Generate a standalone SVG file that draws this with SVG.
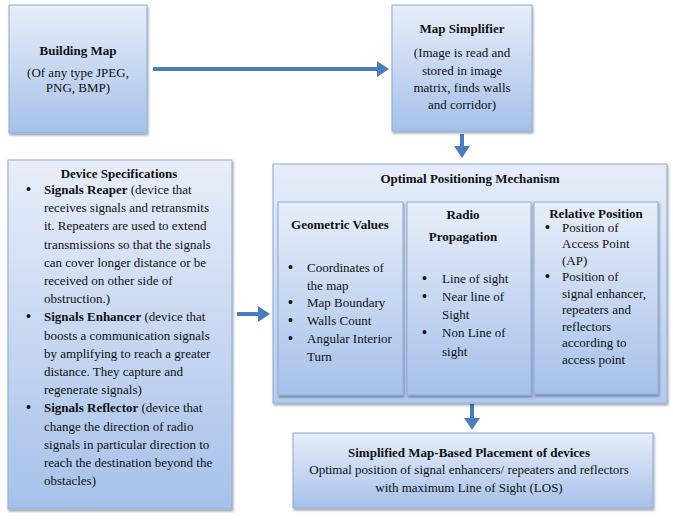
<svg xmlns="http://www.w3.org/2000/svg" width="673" height="526" viewBox="0 0 673 526">
<defs>
<linearGradient id="g" x1="0" y1="0" x2="0" y2="1">
<stop offset="0" stop-color="#e8eef9"/>
<stop offset="1" stop-color="#a6c1ea"/>
</linearGradient>
<linearGradient id="g2" x1="0" y1="0" x2="0" y2="1">
<stop offset="0" stop-color="#e6edf8"/>
<stop offset="1" stop-color="#b2cbef"/>
</linearGradient>
<filter id="sh" x="-10%" y="-10%" width="120%" height="120%">
<feDropShadow dx="1" dy="2" stdDeviation="1.2" flood-color="#000" flood-opacity="0.35"/>
</filter>
<marker id="ah" viewBox="0 0 12 16" markerWidth="12" markerHeight="16" refX="1" refY="8" orient="auto" markerUnits="userSpaceOnUse">
<path d="M0,0 L12,8 L0,16 z" fill="#4a7ebb"/>
</marker>
</defs>
<style>
.box{fill:url(#g);stroke:#8eaad6;stroke-width:1;filter:url(#sh)}
.box2{fill:url(#g2);stroke:#8eaad6;stroke-width:1;filter:url(#sh)}
text{font-family:"Liberation Serif","Times New Roman",serif;font-size:13px;fill:#111}
.c{text-anchor:middle}
.b{font-weight:bold}
.d{font-weight:bold;font-size:14px}
.arr{stroke:#4a7ebb;stroke-width:4;fill:none;marker-end:url(#ah)}
</style>
<rect width="673" height="526" fill="#fff"/>

<g id="connectors">
<path class="arr" d="M153,69 L378,69"/>
<path class="arr" d="M462,134 L462,147"/>
<path class="arr" d="M237,314 L259,314"/>
<path class="arr" d="M472,404 L472,419"/>
</g>

<g id="building-map">
<rect class="box" x="9" y="5" width="138" height="128"/>
<text class="c b" x="78" y="55">Building Map</text>
<text class="c" x="78" y="77">(Of any type JPEG,</text>
<text class="c" x="78" y="92">PNG, BMP)</text>
</g>

<g id="map-simplifier">
<rect class="box" x="392" y="5" width="140" height="126"/>
<text class="c b" x="462" y="33">Map Simplifier</text>
<text class="c" x="462" y="57">(Image is read and</text>
<text class="c" x="462" y="75">stored in image</text>
<text class="c" x="462" y="92">matrix, finds walls</text>
<text class="c" x="462" y="109">and corridor)</text>
</g>

<g id="device-specifications">
<rect class="box" x="8" y="160" width="224" height="349"/>
<text class="c b" x="119" y="178">Device Specifications</text>
<text class="d" x="26" y="194">•</text>
<text x="44" y="194"><tspan class="b">Signals Reaper</tspan> (device that</text>
<text x="44" y="212">receives signals and retransmits</text>
<text x="44" y="230">it. Repeaters are used to extend</text>
<text x="44" y="249">transmissions so that the signals</text>
<text x="44" y="267">can cover longer distance or be</text>
<text x="44" y="285">received on other side of</text>
<text x="44" y="303">obstruction.)</text>
<text class="d" x="26" y="321">•</text>
<text x="44" y="321"><tspan class="b">Signals Enhancer</tspan> (device that</text>
<text x="44" y="340">boosts a communication signals</text>
<text x="44" y="358">by amplifying to reach a greater</text>
<text x="44" y="376">distance. They capture and</text>
<text x="44" y="394">regenerate signals)</text>
<text class="d" x="26" y="412">•</text>
<text x="44" y="412"><tspan class="b">Signals Reflector</tspan> (device that</text>
<text x="44" y="431">change the direction of radio</text>
<text x="44" y="449">signals in particular direction to</text>
<text x="44" y="467">reach the destination beyond the</text>
<text x="44" y="485">obstacles)</text>
</g>

<g id="optimal-positioning">
<rect class="box2" x="273" y="164" width="394" height="239"/>
<text class="c b" x="470" y="183">Optimal Positioning Mechanism</text>
</g>

<g id="geometric-values">
<rect class="box" x="278" y="202" width="125" height="193"/>
<text class="c b" x="340" y="229">Geometric Values</text>
<text class="d" x="288" y="272">•</text>
<text x="307" y="272">Coordinates of</text>
<text x="307" y="290">the map</text>
<text class="d" x="288" y="307">•</text>
<text x="307" y="307">Map Boundary</text>
<text class="d" x="288" y="325">•</text>
<text x="307" y="325">Walls Count</text>
<text class="d" x="288" y="343">•</text>
<text x="307" y="343">Angular Interior</text>
<text x="307" y="361">Turn</text>
</g>

<g id="radio-propagation">
<rect class="box" x="407" y="202" width="124" height="193"/>
<text class="c b" x="463" y="219">Radio</text>
<text class="c b" x="463" y="241">Propagation</text>
<text class="d" x="422" y="283">•</text>
<text x="442" y="283">Line of sight</text>
<text class="d" x="422" y="301">•</text>
<text x="442" y="301">Near line of</text>
<text x="442" y="319">Sight</text>
<text class="d" x="422" y="337">•</text>
<text x="442" y="337">Non Line of</text>
<text x="442" y="356">sight</text>
</g>

<g id="relative-position">
<rect class="box" x="534" y="202" width="124" height="192"/>
<text class="c b" x="596" y="218">Relative Position</text>
<text class="d" x="545" y="232">•</text>
<text x="562" y="232">Position of</text>
<text x="562" y="248">Access Point</text>
<text x="562" y="265">(AP)</text>
<text class="d" x="545" y="281">•</text>
<text x="562" y="281">Position of</text>
<text x="562" y="298">signal enhancer,</text>
<text x="562" y="314">repeaters and</text>
<text x="562" y="331">reflectors</text>
<text x="562" y="347">according to</text>
<text x="562" y="364">access point</text>
</g>

<g id="placement">
<rect class="box" x="293" y="433" width="360" height="75"/>
<text class="c b" x="469" y="457">Simplified Map-Based Placement of devices</text>
<text class="c" x="469" y="474">Optimal position of signal enhancers/ repeaters and reflectors</text>
<text class="c" x="469" y="492">with maximum Line of Sight (LOS)</text>
</g>
</svg>
